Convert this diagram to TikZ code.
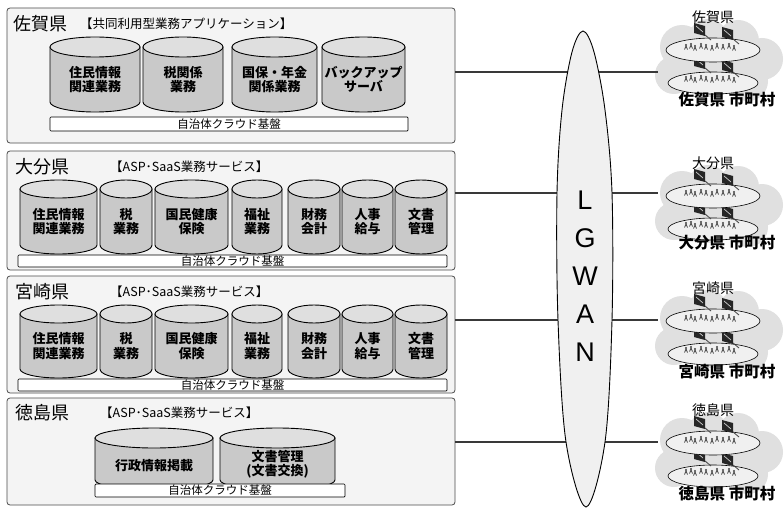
\documentclass[tikz,border=0pt]{standalone}
\usepackage{fontspec}
\setmainfont{Noto Sans CJK JP}
\newfontfamily\lat{Liberation Sans}
\usetikzlibrary{fit}

\tikzset{
  ken/.style={rounded corners=3pt, draw=gray!60!black, fill=gray!9, line width=0.8pt, inner sep=0pt},
  kentitle/.style={anchor=west, font=\fontsize{18}{18}\selectfont, inner sep=0pt},
  sub/.style={anchor=west, font=\fontsize{12.5}{13}\selectfont, inner sep=0pt},
  kiban/.style={draw=black, fill=white, line width=0.7pt, rounded corners=1pt, inner sep=0pt,
    font=\fontsize{11.5}{11.5}\selectfont},
  dbbody/.style={fill=gray!42, draw=black, line width=0.9pt},
  dbtop/.style={fill=gray!25, draw=black, line width=0.9pt},
  dbtext/.style={align=center, font=\bfseries\fontsize{13}{14.5}\selectfont, inner sep=0pt},
  link/.style={draw=gray!45!black, line width=1.2pt},
  plate/.style={draw=black, fill=gray!12, line width=0.6pt},
}

% database cylinder: name, left, right, top, bottom, ry, text
\newcommand\gyomu[7]{%
  \pgfmathsetmacro\rx{(#3-#2)/2}
  \pgfmathsetmacro\cx{(#2+#3)/2}
  \pgfmathsetmacro\cy{(#4+#5)/2+#6/2}
  \filldraw[dbbody] (#2,#4+#6) -- (#2,#5-#6)
    arc[start angle=180,end angle=0,x radius=\rx,y radius=#6] -- (#3,#4+#6) -- cycle;
  \filldraw[dbtop] (\cx,#4+#6) ellipse[x radius=\rx,y radius=#6];
  \node[dbtext] (#1) at (\cx,\cy) {#7};
}

% small terminal
\newcommand\pc[2]{%
  \fill[black!85] (#1,#2) -- ++(11,3) -- ++(0,10) -- ++(-11,-3) -- cycle;
  \draw[gray!40, line width=0.7pt] (#1+2,#2+3) -- ++(7,6);
  \draw[black!70, line width=0.9pt] (#1+11,#2+12) -- ++(6,5);
}

% people on a plate
\newcommand\hito[1]{%
  \foreach \dx/\dy in {0/1,5/0,9/2,15/0,20/1,26/2,31/0,37/1,43/0,48/2} {
    \fill[black!75] (686+\dx,#1+\dy) circle[radius=1.2];
    \draw[black!75, line width=0.8pt] (686+\dx,#1+\dy+1) -- ++(-1.5,3.5) (686+\dx,#1+\dy+1) -- ++(1.5,3.5);
  }
}

% municipal network: name, top label y, bottom label y, prefecture
\newcommand\shichoson[4]{%
  \begin{scope}[shift={(0,#2)}]
    \fill[gray!24] (682,30) circle[radius=22] (708,22) circle[radius=20]
      (738,24) circle[radius=21] (762,42) circle[radius=21]
      (674,58) circle[radius=19] (748,64) circle[radius=20] (712,50) circle[radius=30];
    \draw[plate] (713,66) ellipse[x radius=45,y radius=11];
    \pc{694}{39}\pc{722}{43}
    \hito{59}
    \draw[plate] (713,33) ellipse[x radius=47,y radius=12];
    \pc{694}{6}\pc{722}{10}
    \hito{27}
    \node[font=\fontsize{14}{14}\selectfont, inner sep=0pt] (#1top) at (713,0) {#4};
  \end{scope}
  \node[font=\bfseries\fontsize{15.5}{16}\selectfont, inner sep=0pt] (#1bot) at (727,#3) {#4 市町村};
}

\begin{document}
\begin{tikzpicture}[x=1pt,y=-1pt]
\useasboundingbox[fill=white] (0,0) rectangle (784,508);

\node[ken, fit={(7,8) (455,143)}] (saga) {};
\node[ken, fit={(7,151) (455,270)}] (oita) {};
\node[ken, fit={(7,276) (455,393)}] (miyazaki) {};
\node[ken, fit={(7,398) (455,505)}] (tokushima) {};

\node[kentitle] (sagaT) at (13,24) {佐賀県};
\node[sub] (sagaS) at (80,24) {【共同利用型業務アプリケーション】};
\gyomu{s1}{50}{140}{37}{112}{10}{住民情報\\関連業務}
\gyomu{s2}{143}{223}{37}{112}{10}{税関係\\業務}
\gyomu{s3}{232}{317}{37}{112}{10}{国保・年金\\関係業務}
\gyomu{s4}{322}{405}{37}{112}{10}{バックアップ\\サーバ}
\node[kiban, minimum width=358pt, minimum height=14pt] (sagaK) at (229,124) {自治体クラウド基盤};

\node[kentitle] (oitaT) at (15,167) {大分県};
\node[sub] (oitaS) at (110,167) {【ASP･SaaS業務サービス】};
\gyomu{o1}{20}{97}{180}{254}{9}{住民情報\\関連業務}
\gyomu{o2}{100}{152}{180}{254}{9}{税\\業務}
\gyomu{o3}{155}{228}{180}{254}{9}{国民健康\\保険}
\gyomu{o4}{232}{282}{180}{254}{9}{福祉\\業務}
\gyomu{o5}{288}{340}{180}{254}{9}{財務\\会計}
\gyomu{o6}{342}{393}{180}{254}{9}{人事\\給与}
\gyomu{o7}{395}{447}{180}{254}{9}{文書\\管理}
\node[kiban, minimum width=429pt, minimum height=12pt] (oitaK) at (232.5,261) {自治体クラウド基盤};

\node[kentitle] (miyazakiT) at (15,292) {宮崎県};
\node[sub] (miyazakiS) at (110,292) {【ASP･SaaS業務サービス】};
\gyomu{m1}{20}{97}{305}{378}{9}{住民情報\\関連業務}
\gyomu{m2}{100}{152}{305}{378}{9}{税\\業務}
\gyomu{m3}{155}{228}{305}{378}{9}{国民健康\\保険}
\gyomu{m4}{232}{282}{305}{378}{9}{福祉\\業務}
\gyomu{m5}{288}{340}{305}{378}{9}{財務\\会計}
\gyomu{m6}{342}{393}{305}{378}{9}{人事\\給与}
\gyomu{m7}{395}{447}{305}{378}{9}{文書\\管理}
\node[kiban, minimum width=429pt, minimum height=12pt] (miyazakiK) at (232.5,385) {自治体クラウド基盤};

\node[kentitle] (tokushimaT) at (15,413) {徳島県};
\node[sub] (tokushimaS) at (100,413) {【ASP･SaaS業務サービス】};
\gyomu{t1}{95}{213}{428}{490}{10}{\\行政情報掲載}
\gyomu{t2}{220}{335}{428}{490}{10}{文書管理\\(文書交換)}
\node[kiban, minimum width=250pt, minimum height=13pt] (tokushimaK) at (220,490.5) {自治体クラウド基盤};

\shichoson{c1}{17}{100}{佐賀県}
\shichoson{c2}{163}{243}{大分県}
\shichoson{c3}{288}{372}{宮崎県}
\shichoson{c4}{410}{494}{徳島県}

\coordinate (n1) at (658,72);
\coordinate (n2) at (658,193);
\coordinate (n3) at (658,320);
\coordinate (n4) at (658,442);
\draw[link] (saga.east |- n1) -- (n1);
\draw[link] (oita.east |- n2) -- (n2);
\draw[link] (miyazaki.east |- n3) -- (n3);
\draw[link] (tokushima.east |- n4) -- (n4);

\filldraw[fill=gray!12, draw=black, line width=0.9pt] plot[smooth cycle, tension=0.55] coordinates {
  (583,31) (594,52) (605,110) (612,193) (612,320) (605,442) (586,507)
  (566,442) (558,320) (557,193) (562,110) (572,52)};
\node[align=center, font=\lat\fontsize{27}{38}\selectfont, inner sep=0pt] (lgwan) at (585,276) {L\\G\\W\\A\\N};
\end{tikzpicture}
\end{document}
